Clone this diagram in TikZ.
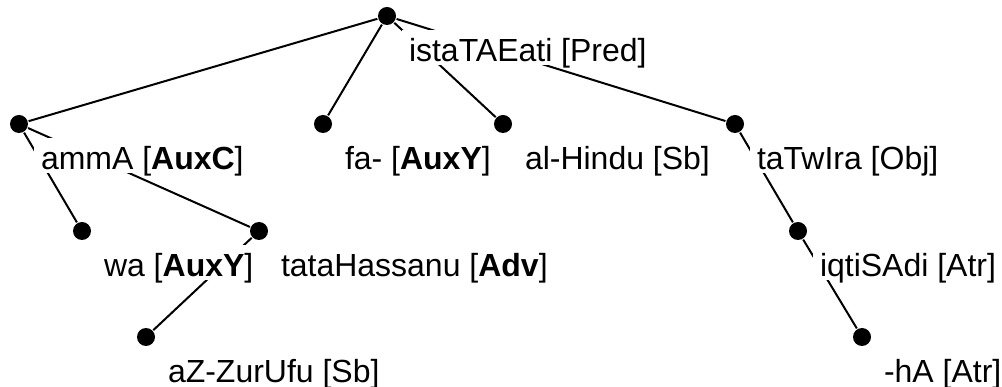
\documentclass[tikz,border=0pt]{standalone}
\usepackage{fontspec}
\setmainfont{Liberation Sans}
\tikzset{
  dot/.style={shape=circle, fill=black, minimum size=0.18cm, inner sep=0pt},
  lbl/.style={anchor=base west, fill=white, inner xsep=0.07cm, inner ysep=0.03cm,
    text height=0.29cm, text depth=0cm, font=\fontsize{9.1}{11}\selectfont}
}
\begin{document}
\begin{tikzpicture}[line width=0.57pt]
        \useasboundingbox (0,0) rectangle (10.02,3.87);

        \node[dot] (root) at (3.87,3.71) {};
        \node[dot] (amma) at (0.19,2.63) {};
        \node[dot] (fa) at (3.23,2.63) {};
        \node[dot] (hindu) at (5.03,2.63) {};
        \node[dot] (tatwira) at (7.35,2.63) {};
        \node[dot] (wa) at (0.82,1.56) {};
        \node[dot] (tatah) at (2.59,1.56) {};
        \node[dot] (iqtisadi) at (7.98,1.56) {};
        \node[dot] (zuruf) at (1.46,0.50) {};
        \node[dot] (ha) at (8.62,0.50) {};

        \draw (root) -- (amma);
        \draw (root) -- (fa);
        \draw (root) -- (hindu);
        \draw (root) -- (tatwira);
        \draw (amma) -- (wa);
        \draw (amma) -- (tatah);
        \draw (tatah) -- (zuruf);
        \draw (tatwira) -- (iqtisadi);
        \draw (iqtisadi) -- (ha);

        % labels cover the edges
        \node[lbl] (root-l) at ([shift={(0.14,-0.46)}]root) {istaTAEati [Pred]};
        \node[lbl] (amma-l) at ([shift={(0.14,-0.46)}]amma) {ammA [\textbf{AuxC}]};
        \node[lbl] (fa-l) at ([shift={(0.14,-0.46)}]fa) {fa- [\textbf{AuxY}]};
        \node[lbl] (hindu-l) at ([shift={(0.14,-0.46)}]hindu) {al-Hindu [Sb]};
        \node[lbl] (tatwira-l) at ([shift={(0.14,-0.46)}]tatwira) {taTwIra [Obj]};
        \node[lbl] (wa-l) at ([shift={(0.14,-0.46)}]wa) {wa [\textbf{AuxY}]};
        \node[lbl] (tatah-l) at ([shift={(0.14,-0.46)}]tatah) {tataHassanu [\textbf{Adv}]};
        \node[lbl] (iqtisadi-l) at ([shift={(0.14,-0.46)}]iqtisadi) {iqtiSAdi [Atr]};
        \node[lbl] (zuruf-l) at ([shift={(0.14,-0.46)}]zuruf) {aZ-ZurUfu [Sb]};
        \node[lbl] (ha-l) at ([shift={(0.14,-0.46)}]ha) {-hA [Atr]};
\end{tikzpicture}
\end{document}
